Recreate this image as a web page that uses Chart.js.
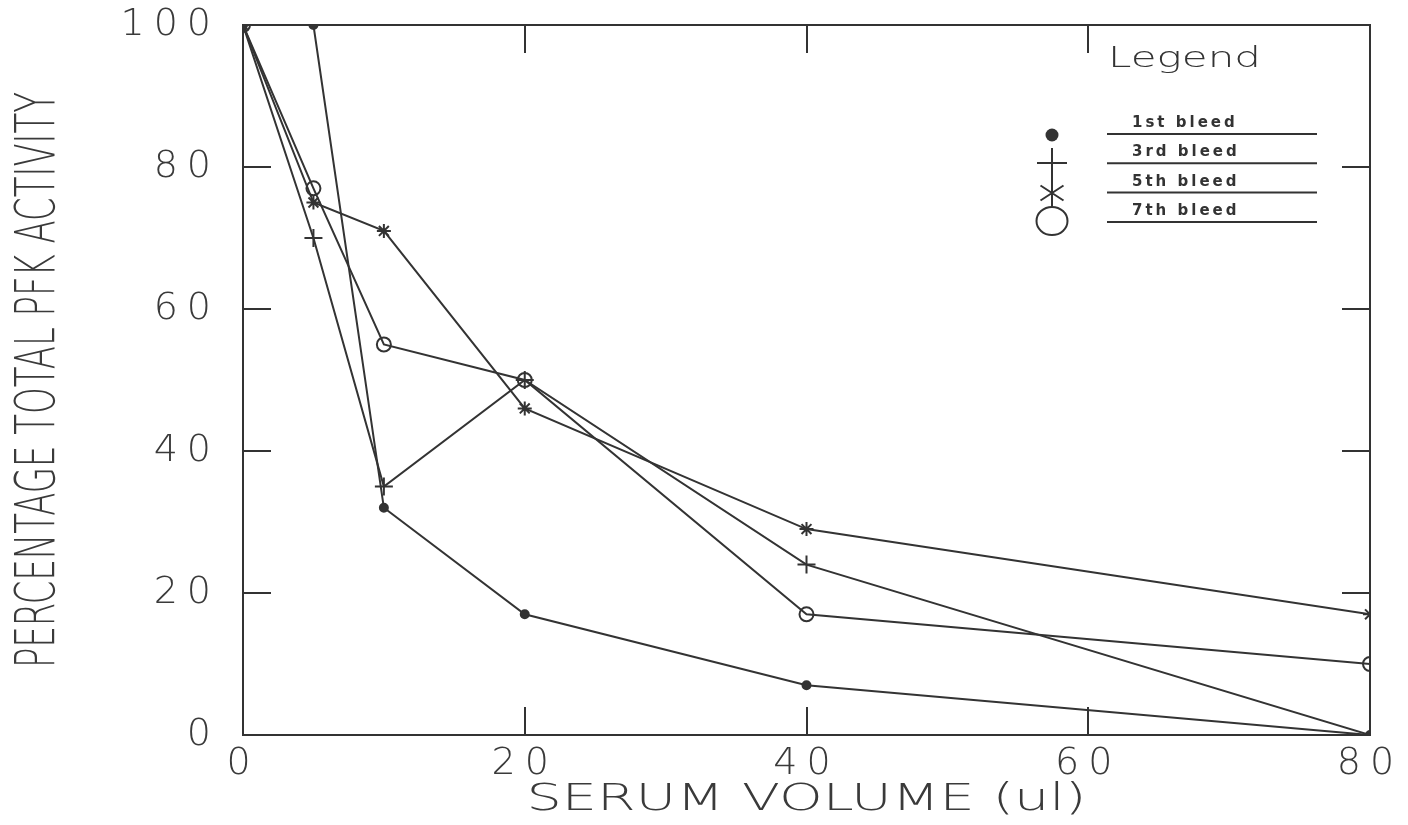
<!DOCTYPE html>
<html>
<head>
<meta charset="utf-8">
<title>PFK activity vs serum volume</title>
<script src="https://cdn.jsdelivr.net/npm/chart.js@4.4.1/dist/chart.umd.min.js"></script>
<style>
  html, body { margin: 0; padding: 0; background: #fff; }
  #wrap { position: relative; width: 1408px; height: 825px; }
</style>
</head>
<body>
<div id="wrap"><canvas id="pfkChart"></canvas></div>
<script>
// serum volume (ul) added to each assay
const serumVolume = [0, 5, 10, 20, 40, 80];

// percentage of total PFK activity, one array per bleed
const bleed1 = [100, 100, 32, 17, 7, 0];
const bleed3 = [100, 70, 35, 50, 24, 0];
const bleed5 = [100, 75, 71, 46, 29, 17];
const bleed7 = [100, 77, 55, 50, 17, 10];

const seriesLabels = ['1st bleed', '3rd bleed', '5th bleed', '7th bleed'];
const xTicks = [0, 20, 40, 60, 80];
const yTicks = [0, 20, 40, 60, 80, 100];

const xTitle = 'SERUM VOLUME (ul)';
const yTitle = 'PERCENTAGE TOTAL PFK ACTIVITY';
const legendTitle = 'Legend';

const pen = '#333';
const FONT = "'DejaVu Sans', sans-serif";

function series(label, values, style) {
    return Object.assign({
        label: label,
        data: serumVolume.map((x, i) => ({ x: x, y: values[i] })),
        borderColor: pen,
        borderWidth: 2,
        tension: 0,
        fill: false,
        pointBorderColor: pen,
        pointBorderWidth: 2,
        pointBackgroundColor: 'rgba(0,0,0,0)'
    }, style);
}

// plotter style frame: inward ticks on all four sides
function frameAxis(position, values, size, showLabels, pad) {
    const horizontal = position === 'top' || position === 'bottom';
    return {
        type: 'linear',
        position: position,
        min: values[0],
        max: values[values.length - 1],
        afterBuildTicks: axis => { axis.ticks = values.map(v => ({ value: v })); },
        afterFit: axis => {
            if (horizontal) axis.height = size; else axis.width = size;
            // labels may overhang the frame, don't let them shrink the plot
            axis.paddingLeft = axis.paddingRight = 0;
            axis.paddingTop = axis.paddingBottom = 0;
        },
        border: { display: true, color: pen, width: 2 },
        grid: { drawOnChartArea: false, drawTicks: true, tickLength: -28, color: pen, lineWidth: 2 },
        ticks: {
            display: showLabels,
            color: '#3a3a3a',
            autoSkip: false,
            maxRotation: 0,
            padding: pad,
            font: { family: FONT, size: 38, weight: '200' }
        }
    };
}

// text squeezed or stretched to a given length along its baseline
function fittedText(ctx, text, cx, cy, length, size, angle, weight) {
    ctx.save();
    ctx.font = (weight || '200') + ' ' + size + 'px ' + FONT;
    const w = ctx.measureText(text).width;
    ctx.translate(cx, cy);
    ctx.rotate(angle);
    ctx.scale(length / w, 1);
    ctx.textAlign = 'center';
    ctx.textBaseline = 'middle';
    ctx.fillText(text, 0, 0);
    ctx.restore();
}

function drawLegend(ctx) {
    ctx.save();
    ctx.fillStyle = pen;
    ctx.strokeStyle = pen;
    ctx.lineWidth = 2;

    // heading
    ctx.font = '200 28px ' + FONT;
    const hw = ctx.measureText(legendTitle).width;
    ctx.save();
    ctx.translate(1108, 67);
    ctx.scale(153 / hw, 1);
    ctx.textBaseline = 'alphabetic';
    ctx.fillText(legendTitle, 0, 0);
    ctx.restore();

    // entries with underlines
    ctx.font = 'bold 15px ' + FONT;
    ctx.letterSpacing = '3px';
    ctx.textBaseline = 'alphabetic';
    seriesLabels.forEach((label, i) => {
        const base = 127 + i * 29.3;
        ctx.fillText(label, 1132, base);
        ctx.beginPath();
        ctx.moveTo(1107, base + 7);
        ctx.lineTo(1317, base + 7);
        ctx.stroke();
    });
    ctx.letterSpacing = '0px';

    // stacked symbols
    const cx = 1052;
    ctx.beginPath();
    ctx.arc(cx, 135, 6.5, 0, Math.PI * 2);
    ctx.fill();
    ctx.beginPath();
    ctx.moveTo(cx, 148); ctx.lineTo(cx, 207);
    ctx.moveTo(1037, 163); ctx.lineTo(1067, 163);
    ctx.moveTo(cx - 11.5, 185.5); ctx.lineTo(cx + 11.5, 200.5);
    ctx.moveTo(cx - 11.5, 200.5); ctx.lineTo(cx + 11.5, 185.5);
    ctx.stroke();
    ctx.beginPath();
    ctx.ellipse(cx, 221, 15.5, 14, 0, 0, Math.PI * 2);
    ctx.stroke();
    ctx.restore();
}

const plotterText = {
    id: 'plotterText',
    beforeDraw(chart) {
        chart.ctx.letterSpacing = '9px';
    },
    afterDraw(chart) {
        const ctx = chart.ctx;
        const area = chart.chartArea;
        ctx.letterSpacing = '0px';
        ctx.save();
        ctx.fillStyle = '#3a3a3a';
        fittedText(ctx, xTitle, (area.left + area.right) / 2, 800, 560, 37, 0);
        fittedText(ctx, yTitle, 40, (area.top + area.bottom) / 2, 576, 55, -Math.PI / 2);
        ctx.restore();
        drawLegend(ctx);
    }
};

new Chart(document.getElementById('pfkChart'), {
    type: 'line',
    data: {
        datasets: [
            series(seriesLabels[0], bleed1, { pointStyle: 'circle', pointRadius: 4, pointBackgroundColor: pen }),
            series(seriesLabels[1], bleed3, { pointStyle: 'cross', pointRadius: 9 }),
            series(seriesLabels[2], bleed5, { pointStyle: 'star', pointRadius: 7 }),
            series(seriesLabels[3], bleed7, { pointStyle: 'circle', pointRadius: 7 })
        ]
    },
    options: {
        responsive: true,
        maintainAspectRatio: false,
        animation: false,
        layout: { padding: { left: 0, top: 25, right: 38, bottom: 0 } },
        plugins: {
            legend: { display: false },
            tooltip: { enabled: false }
        },
        scales: {
            x: frameAxis('bottom', xTicks, 90, true, 34),
            y: frameAxis('left', yTicks, 243, true, 51),
            x2: frameAxis('top', xTicks, 0, false, 0),
            y2: frameAxis('right', yTicks, 0, false, 0)
        }
    },
    plugins: [plotterText]
});
</script>
</body>
</html>
